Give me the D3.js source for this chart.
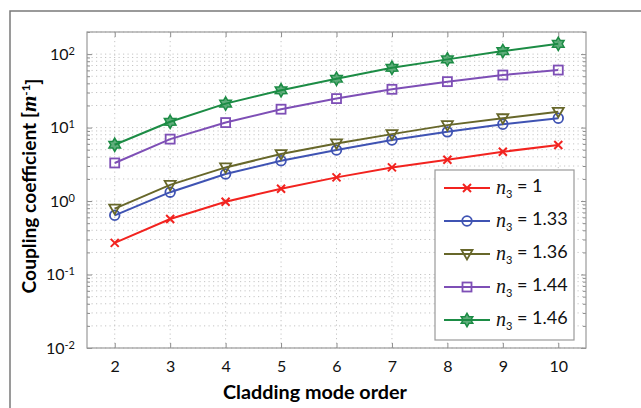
<!DOCTYPE html>
<html>
<head>
<meta charset="utf-8">
<script src="https://cdn.jsdelivr.net/npm/d3@7"></script>
<style>
  body { margin: 0; background: #fff; }
  svg { display: block; }
  text { font-family: Lato, "Open Sans", sans-serif; }
</style>
</head>
<body>
<div id="chart"></div>
<script>
// data
const modeOrder = [2, 3, 4, 5, 6, 7, 8, 9, 10];
const n3Labels = ["1", "1.33", "1.36", "1.44", "1.46"];
const kappaN1 = [0.27, 0.57, 0.98, 1.47, 2.1, 2.87, 3.65, 4.69, 5.78];
const kappaN133 = [0.64, 1.32, 2.34, 3.54, 4.94, 6.76, 8.75, 11.1, 13.4];
const kappaN136 = [0.79, 1.66, 2.87, 4.36, 6.08, 8.15, 10.8, 13.4, 16.4];
const kappaN144 = [3.3, 6.97, 11.7, 17.8, 24.8, 33.2, 42.2, 51.9, 60.7];
const kappaN146 = [5.84, 12.0, 21.2, 32.2, 46.2, 65.2, 84.8, 110, 138];
const yTicks = [0.01, 0.1, 1, 10, 100];

const seriesList = [
  { label: n3Labels[0], values: kappaN1, color: "#f2231f", marker: "x" },
  { label: n3Labels[1], values: kappaN133, color: "#3f53b3", marker: "circle" },
  { label: n3Labels[2], values: kappaN136, color: "#67672a", marker: "triangle" },
  { label: n3Labels[3], values: kappaN144, color: "#7e4fb6", marker: "square" },
  { label: n3Labels[4], values: kappaN146, color: "#1c8c45", marker: "star" }
];

const svgWidth = 641, svgHeight = 408,
    margin = { top: 32, right: 55, bottom: 60, left: 87 },
    width = svgWidth - margin.left - margin.right,
    height = svgHeight - margin.top - margin.bottom;

const root = d3.select("#chart").append("svg")
    .attr("width", svgWidth)
    .attr("height", svgHeight);

// outer frame (only top and left edges visible)
root.append("path")
    .attr("d", "M10,408 V11 H641")
    .attr("fill", "none")
    .attr("stroke", "#7a7a7a")
    .attr("stroke-width", 1.5);

const svg = root.append("g")
    .attr("transform", "translate(" + margin.left + "," + margin.top + ")");

const xScale = d3.scaleLinear().domain([1.5, 10.5]).range([0, width]);
const yScale = d3.scaleLog().domain([0.01, 200]).range([height, 0]);

// minor log positions
let minorY = [];
[0.01, 0.1, 1, 10, 100].forEach((dec) => {
  for (let k = 2; k <= 9; k++) {
    if (dec * k <= 200) minorY.push(dec * k);
  }
});

// grid
const grid = svg.append("g").attr("stroke", "#c4c4c4").attr("stroke-dasharray", "1.2,3.3");
grid.selectAll(".gy").data(yTicks.concat(minorY)).join("line")
    .attr("x1", 0).attr("x2", width)
    .attr("y1", (d) => yScale(d)).attr("y2", (d) => yScale(d));
grid.selectAll(".gx").data(modeOrder).join("line")
    .attr("y1", 0).attr("y2", height)
    .attr("x1", (d) => xScale(d)).attr("x2", (d) => xScale(d));

// axes with inward ticks on all four sides
const axisColor = "#8c8c8c";
function styleAxis(g) {
  g.select(".domain").remove();
  g.selectAll(".tick line").attr("stroke", axisColor);
  g.selectAll(".tick text").attr("fill", "#111").style("font-size", "16px")
      .style("font-family", "Lato, sans-serif");
}

svg.append("g")
    .attr("transform", "translate(0," + height + ")")
    .call(d3.axisBottom(xScale).tickValues(modeOrder).tickFormat(d3.format("d"))
      .tickSizeInner(-5).tickPadding(13))
    .call(styleAxis);
svg.append("g")
    .call(d3.axisTop(xScale).tickValues(modeOrder).tickSizeInner(-5).tickFormat(""))
    .call(styleAxis);

const yAxisLeft = svg.append("g")
    .call(d3.axisLeft(yScale).tickValues(yTicks).tickSizeInner(-5).tickPadding(10).tickFormat(""))
    .call(styleAxis);
yAxisLeft.selectAll(".tick").each(function (d) {
  const t = d3.select(this).append("text")
      .attr("x", -12).attr("dy", "0.32em")
      .attr("text-anchor", "end")
      .attr("fill", "#111")
      .style("font-size", "16px");
  t.append("tspan").text("10");
  t.append("tspan").attr("dy", "-0.45em").style("font-size", "11px")
      .text(String(Math.round(Math.log10(d))));
});
svg.append("g")
    .call(d3.axisLeft(yScale).tickValues(minorY).tickSizeInner(-3).tickFormat(""))
    .call(styleAxis);
svg.append("g")
    .attr("transform", "translate(" + width + ",0)")
    .call(d3.axisRight(yScale).tickValues(yTicks).tickSizeInner(-5).tickFormat(""))
    .call(styleAxis);
svg.append("g")
    .attr("transform", "translate(" + width + ",0)")
    .call(d3.axisRight(yScale).tickValues(minorY).tickSizeInner(-3).tickFormat(""))
    .call(styleAxis);

// plot box
svg.append("rect")
    .attr("width", width).attr("height", height)
    .attr("fill", "none").attr("stroke", "#9a9a9a").attr("stroke-width", 1.2);

// marker shapes
const hexStar = d3.symbol().type({
  draw: function (ctx, size) {
    const r = Math.sqrt(size) * 0.75, ri = r * 0.58;
    for (let i = 0; i < 12; i++) {
      const a = Math.PI / 6 * i - Math.PI / 2;
      const rr = i % 2 === 0 ? r : ri;
      if (i === 0) ctx.moveTo(rr * Math.cos(a), rr * Math.sin(a));
      else ctx.lineTo(rr * Math.cos(a), rr * Math.sin(a));
    }
    ctx.closePath();
  }
});
function drawMarker(sel, s) {
  if (s.marker === "x") {
    sel.append("path").attr("d", "M-4,-4L4,4M-4,4L4,-4")
        .attr("stroke", s.color).attr("stroke-width", 2).attr("fill", "none");
  } else if (s.marker === "circle") {
    sel.append("circle").attr("r", 4.8)
        .attr("stroke", s.color).attr("stroke-width", 1.8).attr("fill", "none");
  } else if (s.marker === "triangle") {
    sel.append("path").attr("d", "M-5.5,-4L5.5,-4L0,5.5Z")
        .attr("stroke", s.color).attr("stroke-width", 1.8).attr("fill", "none");
  } else if (s.marker === "square") {
    sel.append("rect").attr("x", -4.5).attr("y", -4.5).attr("width", 9).attr("height", 9)
        .attr("stroke", s.color).attr("stroke-width", 1.8).attr("fill", "none");
  } else {
    sel.append("path").attr("d", hexStar.size(80)())
        .attr("stroke", s.color).attr("stroke-width", 1.5).attr("fill", s.color)
        .attr("fill-opacity", 0.7);
  }
}

const line = d3.line()
    .x((d, i) => xScale(modeOrder[i]))
    .y((d) => yScale(d));

seriesList.forEach((s) => {
  svg.append("path")
      .datum(s.values)
      .attr("fill", "none")
      .attr("stroke", s.color)
      .attr("stroke-width", 2)
      .attr("d", line);
  svg.append("g").selectAll("g")
      .data(s.values)
      .join("g")
      .attr("transform", (d, i) => "translate(" + xScale(modeOrder[i]) + "," + yScale(d) + ")")
      .each(function () { drawMarker(d3.select(this), s); });
});

// legend
const legend = svg.append("g").attr("transform", "translate(" + (435 - margin.left) + "," + (170 - margin.top) + ")");
legend.append("rect")
    .attr("width", 139).attr("height", 170)
    .attr("fill", "#fff").attr("stroke", "#9a9a9a").attr("stroke-width", 1.2);
seriesList.forEach((s, i) => {
  const row = legend.append("g").attr("transform", "translate(0," + (18 + i * 33) + ")");
  row.append("line").attr("x1", 9).attr("x2", 55)
      .attr("stroke", s.color).attr("stroke-width", 2);
  drawMarker(row.append("g").attr("transform", "translate(32,0)"), s);
  const t = row.append("text").attr("x", 61).attr("dy", "0.35em")
      .attr("fill", "#111").style("font-size", "18px");
  t.append("tspan").attr("font-family", "Liberation Serif, serif").attr("font-style", "italic")
      .style("font-size", "20px").text("n");
  t.append("tspan").attr("dy", "0.35em").style("font-size", "11px").text("3");
  t.append("tspan").attr("dy", "-0.35em").text(" = " + s.label);
});

// scale a title's font so that it spans the same length as in the source
function fitLength(textSel, target) {
  const len = textSel.node().getComputedTextLength();
  const fs = parseFloat(textSel.style("font-size"));
  textSel.style("font-size", (fs * target / len).toFixed(2) + "px");
}

// axis titles
const xTitle = root.append("text")
    .attr("x", 315).attr("y", 399)
    .attr("text-anchor", "middle")
    .attr("font-weight", "bold")
    .style("font-size", "20px")
    .text("Cladding mode order");
fitLength(xTitle, 184);

const yTitle = root.append("text")
    .attr("transform", "translate(36,186) rotate(-90)")
    .attr("text-anchor", "middle")
    .attr("font-weight", "bold")
    .style("font-size", "18px");
yTitle.append("tspan").text("Coupling coefficient [");
yTitle.append("tspan").attr("font-family", "Liberation Serif, serif").attr("font-style", "italic")
    .style("font-size", "1.1em").text("m");
yTitle.append("tspan").attr("dy", "-0.5em").style("font-size", "0.6em").text("-1");
yTitle.append("tspan").attr("dy", "0.5em").text("]");
fitLength(yTitle, 215);
</script>
</body>
</html>
